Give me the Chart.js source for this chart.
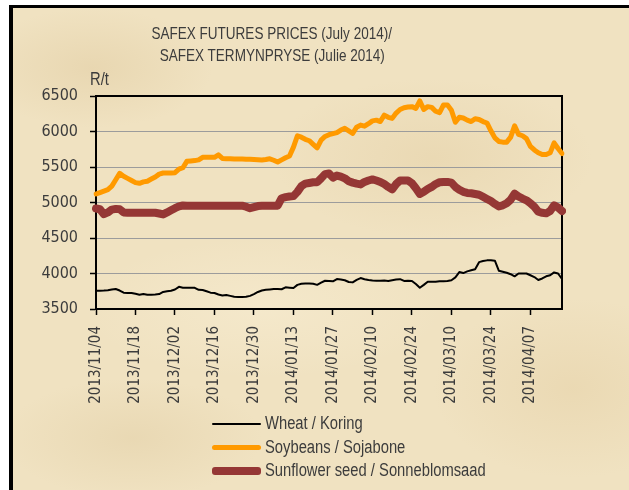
<!DOCTYPE html>
<html lang="en">
<head>
  <meta charset="UTF-8">
  <title>SAFEX futures prices (July 2014)</title>
  <script src="https://cdn.jsdelivr.net/npm/chart.js"></script>
  <style>
    html, body {
      margin: 0;
      padding: 0;
      width: 629px;
      height: 490px;
      overflow: hidden;
      background: #fff;
      font-family: 'Liberation Sans', Arial, sans-serif;
      color: #3c3c3c;
    }
    #frame {
      position: absolute;
      left: 9px;
      top: 5px;
      width: 620px;
      height: 500px;
      border-top: 3px solid #000;
      border-left: 4px solid #000;
      border-right: 2px solid #000;
      background-color: #f0e2c1;
      background-image:
        radial-gradient(ellipse 120px 60px at 80px 60px, rgba(205, 175, 120, 0.22), transparent),
        radial-gradient(ellipse 160px 80px at 420px 150px, rgba(210, 180, 125, 0.2), transparent),
        radial-gradient(ellipse 140px 90px at 560px 380px, rgba(215, 185, 130, 0.22), transparent),
        radial-gradient(ellipse 180px 70px at 250px 300px, rgba(250, 240, 215, 0.45), transparent),
        radial-gradient(ellipse 130px 60px at 120px 430px, rgba(205, 178, 125, 0.2), transparent);
    }
    #chart-box {
      position: absolute;
      left: 0;
      top: 0;
      width: 629px;
      height: 490px;
    }
    .narrow {
      display: inline-block;
      white-space: nowrap;
      transform: scaleX(0.82);
    }
    .title {
      position: absolute;
      left: 72px;
      width: 400px;
      top: 22px;
      text-align: center;
      font-size: 16.5px;
      line-height: 22px;
    }
    .title .narrow { transform-origin: center; }
    .unit {
      position: absolute;
      left: 90px;
      top: 69px;
      font-size: 18px;
    }
    .unit .narrow, #legend .narrow { transform-origin: left center; }
    #legend {
      position: absolute;
      left: 212px;
      top: 412px;
      font-size: 18px;
    }
    .legend-row {
      height: 23.5px;
      display: flex;
      align-items: center;
    }
    .legend-line {
      width: 49px;
      margin-right: 4px;
      border-radius: 3px;
    }
  </style>
</head>
<body>
<div id="frame"></div>
<div id="chart-box">
  <canvas id="safex" width="629" height="490"></canvas>
</div>
<div class="title">
  <span class="narrow">SAFEX FUTURES PRICES (July 2014)/</span><br>
  <span class="narrow">SAFEX TERMYNPRYSE (Julie 2014)</span>
</div>
<div class="unit"><span class="narrow">R/t</span></div>
<div id="legend"></div>

<script>
  // trading days 2013/11/04 .. 2014/04/17 (weekdays)
  const startDate = Date.UTC(2013, 10, 4);
  const dayCount = 119;
  const dates = [];
  for (let t = startDate; dates.length < dayCount; t += 86400000) {
    const d = new Date(t);
    const wd = d.getUTCDay();
    if (wd === 0 || wd === 6) continue;
    const mm = String(d.getUTCMonth() + 1).padStart(2, '0');
    const dd = String(d.getUTCDate()).padStart(2, '0');
    dates.push(d.getUTCFullYear() + '/' + mm + '/' + dd);
  }

  // R/t
  const wheat = [
    3758, 3758, 3760, 3765, 3775, 3782, 3760, 3730, 3726, 3726,
    3715, 3702, 3712, 3702, 3702, 3705, 3710, 3740, 3750, 3758,
    3775, 3812, 3800, 3800, 3800, 3798, 3770, 3768, 3750, 3730,
    3726, 3705, 3690, 3698, 3685, 3672, 3670, 3670, 3672, 3685,
    3710, 3740, 3760, 3770, 3775, 3780, 3782, 3778, 3805, 3800,
    3796, 3840, 3855, 3858, 3860, 3855, 3840, 3870, 3898, 3895,
    3890, 3922, 3915, 3905, 3880, 3875, 3910, 3936, 3920, 3908,
    3900, 3898, 3898, 3900, 3895, 3905, 3915, 3920, 3895, 3898,
    3895, 3852, 3800, 3840, 3885, 3885, 3885, 3890, 3890, 3895,
    3905, 3945, 4020, 4006, 4030, 4045, 4060, 4160, 4175, 4185,
    4188, 4180, 4040, 4025, 4010, 3990, 3960, 4000, 4000, 4000,
    3975, 3950, 3908, 3930, 3960, 3975, 4015, 4000, 3922
  ];
  const soybeans = [
    5120, 5140, 5160, 5180, 5230, 5320, 5410, 5370, 5340, 5310,
    5280, 5270, 5290, 5300, 5330, 5360, 5400, 5415, 5415, 5415,
    5420, 5470, 5490, 5580, 5585, 5590, 5600, 5636, 5636, 5636,
    5636, 5670, 5620, 5615, 5615, 5612, 5612, 5612, 5610, 5608,
    5605, 5603, 5600, 5605, 5615, 5595, 5570, 5600, 5630, 5655,
    5780, 5940, 5920, 5890, 5870, 5820, 5770, 5880, 5930, 5955,
    5970, 5985, 6020, 6045, 6010, 5975, 6060, 6090, 6075, 6110,
    6150, 6160, 6140, 6230, 6200, 6185, 6260, 6310, 6335, 6345,
    6350, 6325, 6430, 6310, 6350, 6340, 6285, 6265, 6375, 6375,
    6300, 6130, 6200, 6190, 6160, 6140, 6180, 6170, 6140, 6120,
    6010, 5910, 5860, 5850, 5850, 5920, 6080, 5960, 5940, 5900,
    5790, 5740, 5700, 5675, 5675, 5700, 5840, 5760, 5690
  ];
  const sunflower = [
    4915, 4905, 4835, 4860, 4900, 4910, 4905, 4860, 4855, 4855,
    4855, 4855, 4855, 4855, 4855, 4855, 4845, 4832, 4860, 4890,
    4920, 4945, 4958, 4955, 4955, 4955, 4955, 4955, 4955, 4955,
    4955, 4955, 4955, 4955, 4955, 4955, 4955, 4955, 4940, 4920,
    4935, 4950, 4955, 4955, 4955, 4955, 4955, 5060, 5075, 5085,
    5090, 5150, 5230, 5265, 5275, 5285, 5285, 5340, 5400, 5410,
    5350, 5380, 5365, 5340, 5300, 5280, 5265, 5255, 5290, 5310,
    5325, 5310, 5290, 5260, 5220, 5185, 5260, 5310, 5310, 5310,
    5270, 5200, 5120, 5150, 5190, 5220, 5260, 5285, 5290, 5290,
    5280, 5220, 5180, 5150, 5135, 5130, 5120, 5110, 5080, 5050,
    5020, 4980, 4945, 4960, 4990, 5040, 5125, 5085, 5055, 5030,
    4990, 4940, 4870, 4855, 4847, 4880, 4960, 4930, 4880
  ];

  const seriesNames = ['Wheat / Koring', 'Soybeans / Sojabone', 'Sunflower seed / Sonneblomsaad'];
  const seriesColors = ['#000000', '#ff9a00', '#953735'];
  const seriesWidths = [2, 5, 8];
  const yTicks = { min: 3500, max: 6500, step: 500 };
  const labelEvery = 10;

  const FONT = "'DejaVu Sans Condensed', 'DejaVu Sans', sans-serif";
  const TEXT = '#3c3c3c';

  // box round the plot area
  const plotBox = {
    id: 'plotBox',
    beforeDatasetsDraw(chart) {
      const { ctx, chartArea: a } = chart;
      ctx.save();
      ctx.strokeStyle = '#000';
      ctx.lineWidth = 2;
      ctx.strokeRect(a.left, a.top, a.right - a.left, a.bottom - a.top);
      ctx.restore();
    }
  };

  const ctx = document.getElementById('safex').getContext('2d');
  const chart = new Chart(ctx, {
    type: 'line',
    data: {
      labels: dates,
      datasets: [wheat, soybeans, sunflower].map((values, i) => ({
        label: seriesNames[i],
        data: values,
        borderColor: seriesColors[i],
        backgroundColor: seriesColors[i],
        borderWidth: seriesWidths[i],
        borderJoinStyle: 'round',
        borderCapStyle: 'round',
        pointRadius: 0,
        tension: 0,
        order: 3 - i
      }))
    },
    options: {
      responsive: false,
      animation: false,
      events: [],
      layout: { padding: { left: 36, right: 67, top: 96, bottom: 81 } },
      plugins: {
        legend: { display: false },
        title: { display: false },
        tooltip: { enabled: false }
      },
      scales: {
        x: {
          type: 'category',
          offset: false,
          afterFit: (scale) => { scale.height = 100; },
          border: { display: true, color: '#000', width: 2 },
          grid: {
            drawOnChartArea: false,
            drawTicks: true,
            tickLength: 6,
            tickWidth: 1.5,
            tickColor: (c) => (c.index % labelEvery === 0 ? '#000' : 'rgba(0,0,0,0)')
          },
          ticks: {
            autoSkip: false,
            minRotation: 90,
            maxRotation: 90,
            padding: 11,
            color: TEXT,
            font: { family: FONT, size: 15 },
            callback: function (val, idx) {
              return idx % labelEvery === 0 ? this.getLabelForValue(val) : '';
            }
          }
        },
        y: {
          min: yTicks.min,
          max: yTicks.max,
          afterFit: (scale) => { scale.width = 60; },
          border: { display: true, color: '#000', width: 2 },
          grid: {
            color: '#9c9c9c',
            lineWidth: 1,
            tickLength: 6,
            tickColor: '#000',
            tickWidth: 1.5
          },
          ticks: {
            stepSize: yTicks.step,
            padding: 12,
            color: TEXT,
            font: { family: FONT, size: 16 },
            callback: (v) => String(v)
          }
        }
      }
    },
    plugins: [plotBox]
  });

  // legend in one column under the plot
  const legend = document.getElementById('legend');
  chart.data.datasets.forEach((ds) => {
    const row = document.createElement('div');
    row.className = 'legend-row';
    const line = document.createElement('span');
    line.className = 'legend-line';
    line.style.height = ds.borderWidth + 'px';
    line.style.background = ds.borderColor;
    const text = document.createElement('span');
    text.className = 'narrow';
    text.textContent = ds.label;
    row.appendChild(line);
    row.appendChild(text);
    legend.appendChild(row);
  });
</script>
</body>
</html>
